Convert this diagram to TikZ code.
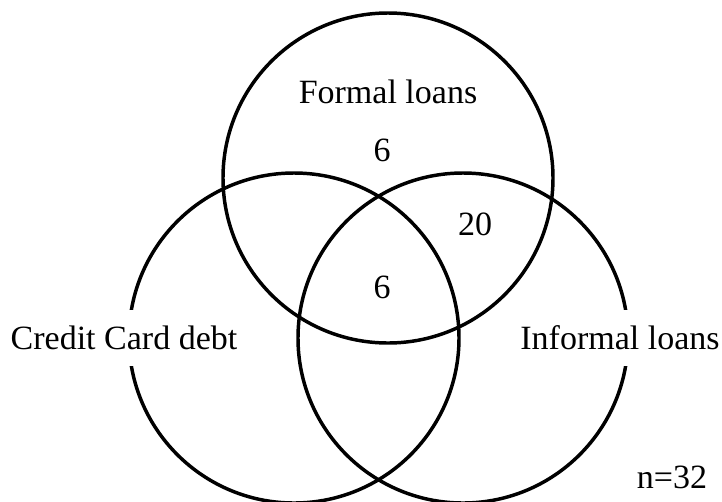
\documentclass[tikz,border=0pt]{standalone}
\usepackage{fontspec}
\setmainfont{Liberation Serif}
\begin{document}
\begin{tikzpicture}[x=0.75pt,y=-0.75pt,
  set/.style={line width=2.6pt,draw=black},
  lbl/.style={font=\fontsize{25.5}{30}\selectfont,inner sep=1pt},
  setname/.style={lbl,fill=white,minimum height=42pt,inner xsep=2pt}]
\useasboundingbox (0,0) rectangle (722,501);
% the three sets
\draw[set] (388,178) circle (165);
\draw[set] (294,338) circle (165);
\draw[set] (463,338) circle (165);
% set names (their white boxes break the circle outlines)
\node[lbl] (formal) at (388,92) {Formal loans};
\node[setname] (credit) at (124,338) {Credit Card debt};
\node[setname] (informal) at (620,338) {Informal loans};
% counts
\node[lbl] (onlyformal) at (382,150) {6};
\node[lbl] (formalinformal) at (475,224) {20};
\node[lbl] (allthree) at (382,287) {6};
\node[lbl] (total) at (672,477) {n=32};
\end{tikzpicture}
\end{document}
